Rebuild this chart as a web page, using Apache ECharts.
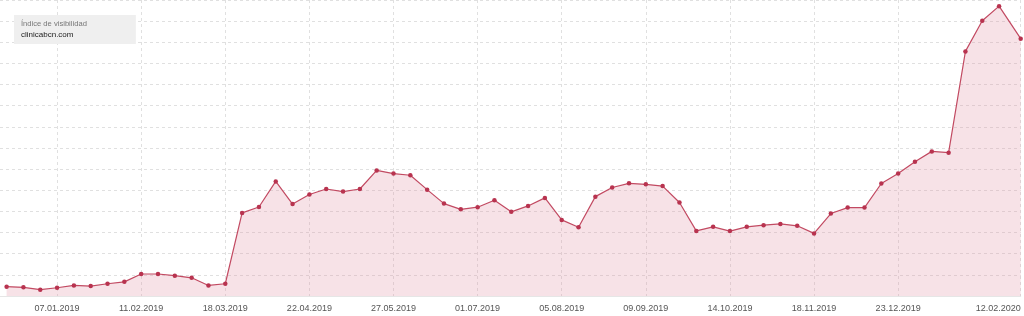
<!DOCTYPE html>
<html>
<head>
<meta charset="utf-8">
<script src="https://cdn.jsdelivr.net/npm/echarts@6/dist/echarts.min.js"></script>
<style>
html,body{margin:0;padding:0;background:#fff;}
#chart{width:1024px;height:316px;}
</style>
</head>
<body>
<div id="chart"></div>
<script>
const dates = ['17.12.2018','24.12.2018','31.12.2018','07.01.2019','14.01.2019','21.01.2019','28.01.2019','04.02.2019','11.02.2019','18.02.2019','25.02.2019','04.03.2019','11.03.2019','18.03.2019','25.03.2019','01.04.2019','08.04.2019','15.04.2019','22.04.2019','29.04.2019','06.05.2019','13.05.2019','20.05.2019','27.05.2019','03.06.2019','10.06.2019','17.06.2019','24.06.2019','01.07.2019','08.07.2019','15.07.2019','22.07.2019','29.07.2019','05.08.2019','12.08.2019','19.08.2019','26.08.2019','02.09.2019','09.09.2019','16.09.2019','23.09.2019','30.09.2019','07.10.2019','14.10.2019','21.10.2019','28.10.2019','04.11.2019','11.11.2019','18.11.2019','25.11.2019','02.12.2019','09.12.2019','16.12.2019','23.12.2019','30.12.2019','06.01.2020','13.01.2020','20.01.2020','27.01.2020','03.02.2020','12.02.2020'];
const visibility = [0.44,0.41,0.30,0.39,0.50,0.47,0.58,0.67,1.04,1.04,0.96,0.86,0.50,0.58,3.93,4.21,5.42,4.35,4.80,5.06,4.94,5.06,5.94,5.79,5.71,5.03,4.37,4.10,4.20,4.53,3.98,4.26,4.64,3.60,3.25,4.70,5.13,5.33,5.28,5.20,4.42,3.08,3.27,3.07,3.27,3.35,3.41,3.32,2.96,3.90,4.18,4.18,5.32,5.79,6.35,6.84,6.78,11.57,13.02,13.71,12.17];
const tickLabels = ['07.01.2019','11.02.2019','18.03.2019','22.04.2019','27.05.2019','01.07.2019','05.08.2019','09.09.2019','14.10.2019','18.11.2019','23.12.2019','12.02.2020'];
const seriesName = 'clinicabcn.com';
const metricName = 'Índice de visibilidad';

const DAY = 86400000;
function parseDate(s){ const p = s.split('.'); return Date.UTC(+p[2], +p[1]-1, +p[0]); }
function fmt(ts){ const d = new Date(ts); const pad = n => (n<10?'0':'')+n; return pad(d.getUTCDate())+'.'+pad(d.getUTCMonth()+1)+'.'+d.getUTCFullYear(); }
const points = dates.map((d,i) => [parseDate(d), visibility[i]]);
const ticks = tickLabels.map(parseDate);

const chart = echarts.init(document.getElementById('chart'), null, {renderer:'canvas'});
chart.setOption({
  animation:false,
  title:{
    text: metricName,
    subtext: seriesName,
    left:14, top:15,
    backgroundColor:'#efefef',
    padding:[5,49,5,7],
    itemGap:3,
    textStyle:{fontFamily:'Liberation Sans, Arial, sans-serif', fontSize:7.6, fontWeight:'normal', color:'#777'},
    subtextStyle:{fontFamily:'Liberation Sans, Arial, sans-serif', fontSize:8, color:'#222'}
  },
  grid:{left:0, right:3.3, top:-1, bottom:20, containLabel:false},
  xAxis:{
    type:'value',
    min: parseDate(dates[0]) - 2.75*DAY,
    max: parseDate(dates[dates.length-1]),
    axisLine:{show:true, lineStyle:{color:'#e6e6e6', width:1}},
    axisTick:{show:false, customValues: ticks},
    axisLabel:{
      customValues: ticks,
      formatter: v => fmt(v),
      fontFamily:'Liberation Sans, Arial, sans-serif', fontSize:9, color:'#555', margin:8,
      alignMaxLabel:'right', hideOverlap:false
    },
    splitLine:{show:true, lineStyle:{color:'#e0e0e0', type:[3,3], width:1}}
  },
  yAxis:{
    type:'value', min:0, max:14, interval:1,
    axisLine:{show:false}, axisTick:{show:false}, axisLabel:{show:false},
    splitLine:{show:true, lineStyle:{color:'#e0e0e0', type:[3,3], width:1}}
  },
  series:[{
    name: seriesName,
    type:'line',
    data: points,
    symbol:'circle', symbolSize:4.5,
    itemStyle:{color:'#b8334f'},
    lineStyle:{color:'#c24a62', width:1.2},
    areaStyle:{color:'rgba(224,140,158,0.36)'},
    clip:true
  }]
});
</script>
</body>
</html>
